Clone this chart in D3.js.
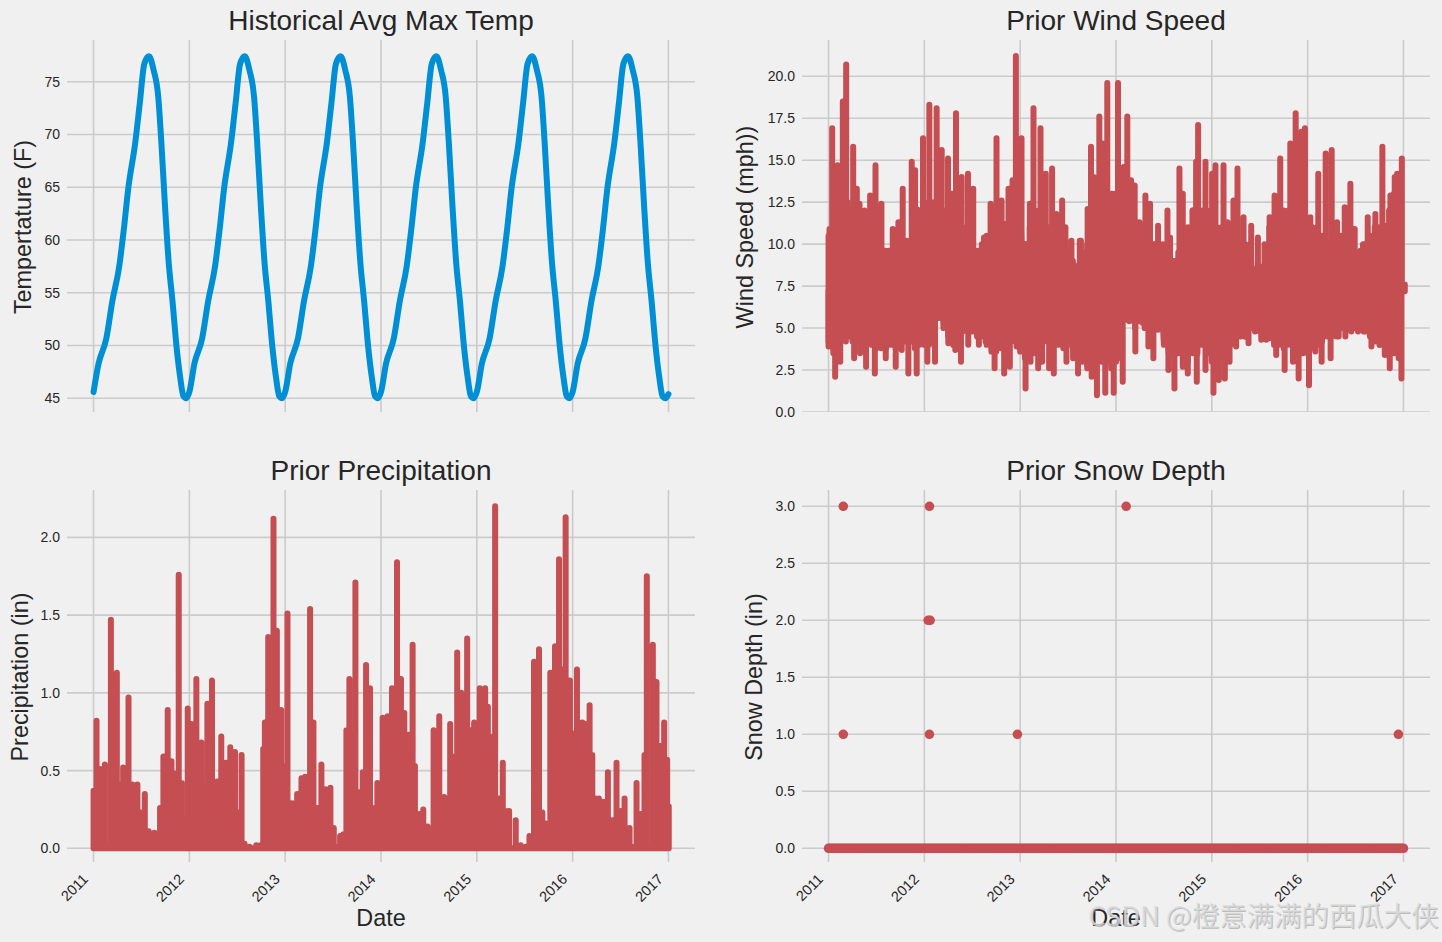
<!DOCTYPE html>
<html>
<head>
<meta charset="utf-8">
<script src="https://cdn.jsdelivr.net/npm/d3@7"></script>
<style>
    body { margin: 0; background: #f0f0f0; }
    text { font-family: "Liberation Sans", Arial, sans-serif; fill: #262626; }
    .grid line { stroke: #cbcbcb; stroke-width: 1.6; }
    .axis path, .axis line { display: none; }
    .axis text { font-family: "Liberation Sans", Arial, sans-serif; font-size: 14px; fill: #262626; }
    .mark { fill: none; stroke-linejoin: round; stroke-linecap: round; stroke-width: 6; }
</style>
</head>
<body>
<svg id="chart" width="1442" height="942"></svg>
<script>

// X axis labels, dates below are written as fractional years
var yearTicks = [2011, 2012, 2013, 2014, 2015, 2016, 2017];
var cycleYears = [2011, 2012, 2013, 2014, 2015, 2016];

// Historical average max temp, one yearly cycle (it repeats)
var tempOffsets = [0, .053, .134, .196, .268, .316, .364, .435, .483, .53, .579, .627, .675, .708, .746, .785, .823, .866, .904, .938, .967];
var tempValues = [45.6, 48.3, 50.7, 54.2, 57.5, 61, 65, 69.2, 73, 76.7, 77.4, 76.1, 73.6, 69.2, 63.2, 57.8, 54.3, 49.9, 47, 45.2, 45];
var tempEndYear = 2017;
var tempEndValue = 45.4;

// Wind speed, upper and lower envelope of the daily readings
var windMean = 7.2;
var windHighOffsets = [.010, .038, .094, .149, .184, .257, .295, .323, .375, .434, .490, .552, .590, .628, .670, .729, .774, .816, .868, .903, .920, .986,
    1.052, 1.128, 1.181, 1.247, 1.285, 1.330, 1.389, 1.455, 1.510, 1.556, 1.622, 1.691, 1.753, 1.806, 1.844, 1.878, 1.920, 1.955,
    2.014, 2.059, 2.101, 2.139, 2.212, 2.267, 2.333, 2.378, 2.438, 2.472, 2.535, 2.580, 2.622, 2.634, 2.704, 2.739, 2.767, 2.826, 2.861, 2.909, 2.965,
    3.021, 3.080, 3.118, 3.157, 3.195, 3.244, 3.307, 3.355, 3.401, 3.439, 3.488, 3.537, 3.564, 3.610, 3.662, 3.697, 3.725, 3.774, 3.801, 3.836, 3.857, 3.934,
    4.003, 4.038, 4.122, 4.164, 4.226, 4.268, 4.331, 4.411, 4.481, 4.540, 4.603, 4.655, 4.714, 4.760, 4.819, 4.875, 4.934, 4.972,
    5.028, 5.111, 5.188, 5.251, 5.307, 5.387, 5.446, 5.491, 5.551, 5.578, 5.627, 5.707, 5.780, 5.829, 5.864, 5.909, 5.934, 5.983];
var windHighValues = [10.9, 16.9, 14.7, 18.5, 20.7, 15.8, 13.3, 12.4, 12, 12.9, 14.7, 12.4, 9.6, 9.6, 10.9, 11.3, 13.3, 10.2, 14.9, 14.4, 12.1, 16.3,
    18.3, 18.1, 15.6, 15.1, 13, 17.8, 14, 14.2, 13.3, 9.6, 10.4, 12.4, 16.3, 12.6, 11.2, 13.3, 13.8, 21.2,
    16.3, 10, 12.4, 18.1, 16.9, 14.2, 14.5, 11.8, 12.6, 11, 10.2, 8.7, 10.2, 10.2, 12.1, 15.8, 14, 17.6, 16, 19.6, 13,
    19.6, 14.6, 17.6, 13.8, 13.5, 11.3, 12.9, 12.4, 10, 11.1, 10, 12, 10.4, 9, 14.5, 13, 9.8, 10.3, 12, 14.9, 17.1, 14.9,
    14.2, 14.7, 14.7, 11.3, 12.6, 14.5, 11.6, 11.1, 10.4, 8.7, 11.6, 12.9, 15.1, 11.3, 16, 17.8, 16.7, 16.9,
    11.6, 14.2, 15.4, 15.6, 11.3, 12.2, 13.6, 10.9, 9.6, 10, 11.6, 11.8, 15.8, 11.1, 12.9, 14, 14.2, 15.1];
var windLowOffsets = [0, .069, .122, .181, .267, .330, .392, .483, .531, .597, .701, .764, .833, .920,
    1.031, 1.111, 1.156, 1.250, 1.323, 1.382, 1.458, 1.569, 1.639, 1.733, 1.833, 1.892, 1.962,
    2.056, 2.108, 2.188, 2.229, 2.302, 2.351, 2.420, 2.483, 2.552, 2.604, 2.693, 2.746, 2.801, 2.888, 2.976,
    3.070, 3.139, 3.202, 3.279, 3.338, 3.390, 3.439, 3.495, 3.547, 3.610, 3.697, 3.749, 3.843, 3.934,
    4.017, 4.073, 4.136, 4.185, 4.254, 4.341, 4.383, 4.463, 4.516, 4.568, 4.672, 4.760, 4.847, 4.906,
    5.014, 5.080, 5.146, 5.240, 5.324, 5.394, 5.456, 5.526, 5.585, 5.666, 5.753, 5.805, 5.857, 5.909, 5.979, 6.014];
var windLowValues = [3.9, 2.1, 3, 4.2, 3.2, 3.5, 2.7, 2.3, 4.2, 3.2, 2.7, 3.7, 2.3, 2.3,
    3, 3, 5.8, 4.1, 3.7, 3, 4, 4, 4.2, 2.6, 2.3, 2.7, 3.9,
    1.4, 3, 2.6, 3, 2.6, 2.3, 4.2, 3, 3.2, 2.3, 3.2, 2.1, 1, 1.15, 1.15,
    1.8, 5.4, 3.6, 5.3, 3.9, 3.2, 4.9, 5, 2.5, 1.4, 2.7, 2.3, 1.8, 2.5,
    1.15, 1.9, 2, 3, 3.9, 4.5, 4.1, 4.9, 4.3, 4.3, 3.4, 2.5, 3, 2,
    1.6, 3.6, 3, 3.2, 4.5, 4.5, 4.8, 4.8, 4.8, 3.9, 4, 3.4, 2.6, 5.8, 2, 7.6];

// Wind speed, edges of the solid band the daily swings blur into
var windBandOffsets = [0, .05, .1, .15, .2, .25, .3, .35, .4, .45, .5, .55, .6, .65, .7, .75, .8, .85, .9, .95];
var windBandTops = [10.5, 11, 12, 12.5, 12.5, 12, 11.5, 11, 11, 11.5, 11, 9.5, 9.5, 9.5, 10, 10.5, 10, 10, 11, 12,
    12.5, 12.5, 12.5, 12.5, 12, 12, 11.5, 11, 11, 10.5, 9.5, 9.5, 10, 10.5, 11, 11, 11, 11, 12, 12.5,
    12.5, 10, 11, 12, 12, 11.5, 11, 11, 10.5, 10, 9.5, 9, 8.5, 9.5, 10, 11, 12, 12.5, 13, 13,
    13, 13, 12.5, 12, 11, 11, 10.5, 10, 10, 9.5, 9, 9.5, 9, 9.5, 10, 11, 12, 12, 12, 12,
    12, 11, 11, 11, 11, 10.5, 10, 10, 10, 8.5, 8.5, 10, 11, 11, 11.5, 12, 12, 12, 11, 11,
    11, 11, 11, 10.5, 10, 10.5, 10.5, 10.5, 10, 10, 9.5, 9.5, 10, 10.5, 11, 11, 11, 12, 13, 13];
var windBandBottoms = [4.2, 3.5, 4, 4.5, 4.5, 4.2, 4.2, 4, 4.2, 4, 3.8, 3.8, 3.8, 4, 3.8, 4, 4.2, 4.2, 3.8, 4,
    4, 4, 4.2, 5.6, 5, 4.5, 4, 4.5, 4.8, 4.8, 4.8, 4.5, 4.5, 4, 3.6, 3.6, 3.8, 3.8, 4.2, 4.2,
    3.6, 3.2, 3.5, 3.5, 4, 4.2, 4.2, 4.8, 4, 3.8, 4, 3.8, 3.5, 3, 2.6, 2.6, 3.2, 3, 3, 2.6,
    3, 3.2, 5.5, 5.5, 5, 5.4, 5, 5, 5.2, 5.2, 4, 3.5, 3.5, 3.5, 3.2, 3, 3.5, 3.5, 4, 3.5,
    3, 3, 3.2, 3.5, 4, 4.2, 4.5, 4.5, 5, 4.8, 4.8, 4.8, 4.4, 4, 4, 3.8, 4, 3.5, 3.5, 3.5,
    3.5, 3.8, 4, 4.2, 4.5, 4.5, 4.5, 5, 5, 5, 5, 5, 4.8, 4.5, 4.2, 4, 4, 3.5, 3.5, 3.2];

// Precipitation, tallest reading in each stretch of days
var precipOffsets = [0, .031, .066, .118, .181, .243, .281, .309, .365, .406, .458, .503, .535, .576, .635, .694, .729, .774, .813, .847, .889, .920, .951, .983,
    1.021, 1.073, 1.125, 1.160, 1.188, 1.236, 1.288, 1.333, 1.382, 1.427, 1.476, 1.510, 1.545, 1.576, 1.628, 1.698, 1.740, 1.771, 1.788, 1.823, 1.854, 1.878, 1.913, 1.958, 1.997,
    2.024, 2.073, 2.125, 2.170, 2.208, 2.260, 2.295, 2.340, 2.378, 2.420, 2.472, 2.507, 2.531, 2.573, 2.608, 2.639, 2.670, 2.705, 2.733, 2.774, 2.809, 2.844, 2.885, 2.920, 2.962,
    3.017, 3.069, 3.115, 3.167, 3.208, 3.243, 3.288, 3.330, 3.354, 3.399, 3.441, 3.486, 3.503, 3.549, 3.608, 3.660, 3.722, 3.767, 3.795, 3.837, 3.868, 3.899, 3.937, 3.972,
    4.031, 4.087, 4.115, 4.146, 4.191, 4.233, 4.271, 4.302, 4.337, 4.406, 4.458, 4.510, 4.549, 4.597, 4.649, 4.684, 4.719, 4.767, 4.816, 4.858, 4.892, 4.927, 4.972,
    5.003, 5.045, 5.101, 5.135, 5.177, 5.205, 5.240, 5.274, 5.316, 5.368, 5.413, 5.458, 5.500, 5.542, 5.594, 5.622, 5.667, 5.708, 5.750, 5.774, 5.837, 5.875, 5.906, 5.955, 5.986, 6.003];
var precipValues = [.37, .82, .51, .54, 1.47, 1.13, .41, .52, .97, .41, .41, .23, .35, .11, .10, .26, .59, .89, .56, .48, 1.76, .42, .18, .90,
    .80, 1.09, .68, .40, .93, 1.08, .43, .72, .55, .65, .62, .23, .60, .03, .01, .02, .02, .64, .81, 1.36, .89, 2.12, 1.40, .89, .53,
    1.51, .29, .35, .45, .46, 1.54, .81, .26, .54, .38, .39, .13, .01, .08, .09, .76, 1.09, .72, 1.71, .36, .49, 1.18, 1.03, .26, .42,
    .84, .85, 1.03, 1.84, 1.09, .87, .73, 1.31, .53, .22, .25, .14, .08, .76, .85, .33, .80, .59, 1.26, 1.00, .60, 1.35, .76, .81,
    1.03, 1.03, .91, .72, 2.20, .32, .55, .24, .24, .18, .02, .01, .08, 1.20, 1.28, .23, .16, 1.13, 1.30, 1.86, 1.15, 2.13, 1.08,
    .74, 1.15, .81, .80, .92, .60, .32, .32, .30, .49, .18, .55, .24, .32, .13, .01, .42, .22, .60, 1.75, 1.31, 1.07, .66, .81, .57, .27];

// Snow depth, the few days with snow
var snowOffsets = [.154, 1.053, 3.106, 1.04, 1.06, .154, 1.053, 1.971, 5.947];
var snowDepths = [3, 3, 3, 2, 2, 1, 1, 1, 1];
// the rest of the days sit at zero, markers overlap into a solid band
var snowZeroOffsets = [0, .02, .04, .06, .08, .1, .12, .14, .16, .18, .2, .22, .24, .26, .28, .3, .32, .34, .36, .38, .4, .42, .44, .46, .48,
    .5, .52, .54, .56, .58, .6, .62, .64, .66, .68, .7, .72, .74, .76, .78, .8, .82, .84, .86, .88, .9, .92, .94, .96, .98];
var snowEndYear = 2017;

var tempTicks = [45, 50, 55, 60, 65, 70, 75];
var windTicks = [0, 2.5, 5, 7.5, 10, 12.5, 15, 17.5, 20];
var precipTicks = [0, .5, 1, 1.5, 2];
var snowTicks = [0, .5, 1, 1.5, 2, 2.5, 3];

var blue = "#008fd5";
var red = "#c44e52";
var yearPad = 0.277;

var svg = d3.select("#chart");

svg.append("rect").attr("width", 1442).attr("height", 942).attr("fill", "#f0f0f0");

// Sets up one subplot and hands back its scales and group
function subplot(opts) {
    var g = svg.append("g");
    var x = d3.scaleLinear()
        .domain([2011 - yearPad, 2017 + yearPad])
        .range([opts.left, opts.left + 628]);
    var y = d3.scaleLinear()
        .domain(opts.yDomain)
        .range([opts.top + 372, opts.top]);

    var clipId = "clip" + opts.left + opts.top;
    svg.append("clipPath").attr("id", clipId).append("rect")
        .attr("x", opts.left).attr("y", opts.top).attr("width", 628).attr("height", 372);

    // Gridlines
    var grid = g.append("g").attr("class", "grid").attr("clip-path", "url(#" + clipId + ")");
    grid.selectAll(".v").data(yearTicks).enter().append("line")
        .attr("x1", d => x(d)).attr("x2", d => x(d))
        .attr("y1", opts.top).attr("y2", opts.top + 372);
    grid.selectAll(".h").data(opts.yTicks).enter().append("line")
        .attr("x1", opts.left).attr("x2", opts.left + 628)
        .attr("y1", d => y(d)).attr("y2", d => y(d));

    // Axes
    var yAxis = d3.axisLeft(y).tickValues(opts.yTicks).tickSize(0).tickPadding(7)
        .tickFormat(d3.format(opts.yFormat));
    g.append("g").attr("class", "axis").attr("transform", "translate(" + opts.left + ",0)").call(yAxis);

    if (opts.showDates) {
        var xAxis = d3.axisBottom(x).tickValues(yearTicks).tickSize(0).tickFormat(d3.format("d"));
        var xg = g.append("g").attr("class", "axis").attr("transform", "translate(0," + (opts.top + 372) + ")").call(xAxis);
        xg.selectAll("text")
            .attr("text-anchor", "end")
            .attr("dx", 0).attr("dy", 0).attr("y", 0)
            .style("font-size", "14.5px")
            .attr("transform", "translate(-5,18) rotate(-45)");
        g.append("text").attr("x", opts.left + 314).attr("y", 926)
            .attr("text-anchor", "middle").attr("font-size", 23.4).text("Date");
    }

    // Title and y label
    g.append("text").attr("x", opts.left + 314).attr("y", opts.top - 10.5)
        .attr("text-anchor", "middle").attr("font-size", 28).text(opts.title);
    g.append("text")
        .attr("transform", "translate(" + opts.labelX + "," + (opts.top + 187) + ") rotate(-90)")
        .attr("text-anchor", "middle").attr("font-size", 23.4).text(opts.yLabel);

    return { g: g, x: x, y: y };
}

// Historical Avg Max Temp
var tempPlot = subplot({ left: 67, top: 40, yDomain: [43.7, 78.95], yTicks: tempTicks, yFormat: "d",
    title: "Historical Avg Max Temp", yLabel: "Tempertature (F)", labelX: 31 });
var tempData = [];
cycleYears.forEach(function(year) {
    tempOffsets.forEach(function(offset, i) {
        tempData.push([year + offset, tempValues[i]]);
    });
});
tempData.push([tempEndYear, tempEndValue]);
var tempLine = d3.line().x(d => tempPlot.x(d[0])).y(d => tempPlot.y(d[1])).curve(d3.curveMonotoneX);
tempPlot.g.append("path").attr("class", "mark").attr("stroke", blue).attr("d", tempLine(tempData));

// Prior Wind Speed, each reading swings out from the mean band
var windPlot = subplot({ left: 802, top: 40, yDomain: [0, 22.16], yTicks: windTicks, yFormat: ".1f",
    title: "Prior Wind Speed", yLabel: "Wind Speed (mph))", labelX: 753 });
var windData = [];
windHighOffsets.forEach((offset, i) => windData.push([2011 + offset, windHighValues[i]]));
windLowOffsets.forEach((offset, i) => windData.push([2011 + offset, windLowValues[i]]));
windData.sort((a, b) => a[0] - b[0]);
var windSwings = [];
windData.forEach(function(d) {
    windSwings.push([d[0], windMean], d, [d[0], windMean]);
});
var windLine = d3.line().x(d => windPlot.x(d[0])).y(d => windPlot.y(d[1]));
windPlot.g.append("path").attr("class", "mark").attr("stroke", red).attr("d", windLine(windSwings));

var windBand = [];
cycleYears.forEach(function(year, yi) {
    windBandOffsets.forEach(function(offset, i) {
        var k = yi * windBandOffsets.length + i;
        windBand.push([year + offset, windBandBottoms[k]], [year + offset, windBandTops[k]]);
    });
});
windPlot.g.append("path").attr("class", "mark").attr("stroke", red).attr("d", windLine(windBand));

// Prior Precipitation, spikes up from the dry days
var precipPlot = subplot({ left: 67, top: 490, yDomain: [-.088, 2.305], yTicks: precipTicks, yFormat: ".1f",
    title: "Prior Precipitation", yLabel: "Precipitation (in)", labelX: 28, showDates: true });
var precipData = [];
precipOffsets.forEach(function(offset, i) {
    precipData.push([2011 + offset, 0], [2011 + offset, precipValues[i]], [2011 + offset, 0]);
});
var precipLine = d3.line().x(d => precipPlot.x(d[0])).y(d => precipPlot.y(d[1]));
precipPlot.g.append("path").attr("class", "mark").attr("stroke", red).attr("d", precipLine(precipData));

// Prior Snow Depth
var snowPlot = subplot({ left: 802, top: 490, yDomain: [-.12, 3.143], yTicks: snowTicks, yFormat: ".1f",
    title: "Prior Snow Depth", yLabel: "Snow Depth (in)", labelX: 762, showDates: true });
var snowData = [];
cycleYears.forEach(function(year) {
    snowZeroOffsets.forEach(offset => snowData.push([year + offset, 0]));
});
snowData.push([snowEndYear, 0]);
snowOffsets.forEach((offset, i) => snowData.push([2011 + offset, snowDepths[i]]));
snowPlot.g.selectAll("circle").data(snowData).enter().append("circle")
    .attr("cx", d => snowPlot.x(d[0]))
    .attr("cy", d => snowPlot.y(d[1]))
    .attr("r", 4.8)
    .attr("fill", red);

// Site watermark over the corner
var markText = "CSDN @橙意满满的西瓜大侠";
svg.append("text").attr("x", 1089).attr("y", 927).attr("font-size", 27.4)
    .style("font-family", '"Noto Sans CJK SC", sans-serif').style("fill", "#999999").style("fill-opacity", 0.6).text(markText);
svg.append("text").attr("x", 1088).attr("y", 926).attr("font-size", 27.4)
    .style("font-family", '"Noto Sans CJK SC", sans-serif').style("fill", "#dcdcdc").style("fill-opacity", 0.8).text(markText);

</script>
</body>
</html>
